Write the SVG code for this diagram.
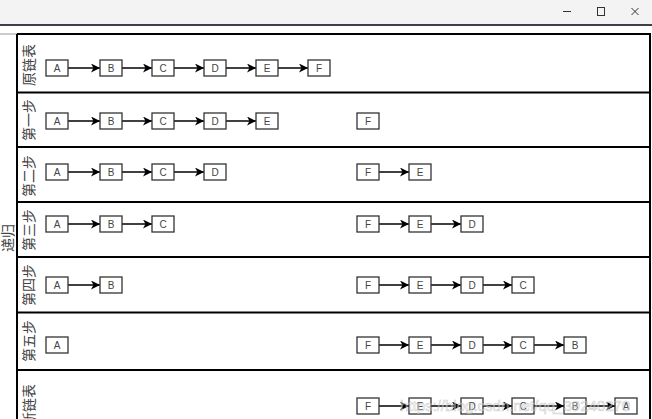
<svg xmlns="http://www.w3.org/2000/svg" width="652" height="419" viewBox="0 0 652 419">
<style>
.bx{fill:#fff;stroke:#333;stroke-width:1.3}
.nt{font-family:"Liberation Sans",Arial,sans-serif;font-size:10px;fill:#444;text-anchor:middle}
.lb{font-family:"Noto Sans CJK SC","Noto Sans CJK JP",sans-serif;font-size:14px;fill:#444;text-anchor:middle;dominant-baseline:central}
.ar{stroke:#000;stroke-width:1.5;fill:none;marker-end:url(#ah)}
.tl{stroke:#000;stroke-width:2;fill:none}
</style>
<defs>
<marker id="ah" markerUnits="userSpaceOnUse" markerWidth="10" markerHeight="10" refX="9" refY="4.5" orient="auto">
<path d="M0,0 L9,4.5 L0,9 L2.5,4.5 z" fill="#000"/>
</marker>
<g id="nodeproto"></g>
</defs>
<rect x="0" y="0" width="652" height="419" fill="#fff"/>
<g id="titlebar">
<rect x="0" y="0" width="652" height="24" fill="#f3f3f3"/>
<rect x="0" y="24" width="652" height="2" fill="#3c4048"/>
<line x1="563" y1="11.5" x2="571" y2="11.5" stroke="#333" stroke-width="1"/>
<rect x="597.5" y="7.5" width="7" height="8" fill="none" stroke="#333" stroke-width="1"/>
<path d="M631.5,8 L638.5,15 M638.5,8 L631.5,15" stroke="#333" stroke-width="1"/>
</g>
<g id="table">
<line x1="0" y1="34" x2="17" y2="34" stroke="#999" stroke-width="1"/>
<path class="tl" d="M17,34 H650 V419 M17,34 V419"/>
<path class="tl" d="M17,92.5 H650 M17,147 H650 M17,202 H650 M17,257 H650 M17,312.5 H650 M17,370 H650"/>
<text class="lb" font-size="15" transform="translate(7,238) rotate(-90)">递归</text>
<text class="lb" transform="translate(27.5,65) rotate(-90)">原链表</text>
<text class="lb" transform="translate(27.5,120) rotate(-90)">第一步</text>
<text class="lb" transform="translate(27.5,176) rotate(-90)">第二步</text>
<text class="lb" transform="translate(27.5,230) rotate(-90)">第三步</text>
<text class="lb" transform="translate(27.5,285) rotate(-90)">第四步</text>
<text class="lb" transform="translate(27.5,341) rotate(-90)">第五步</text>
<text class="lb" transform="translate(27.5,405) rotate(-90)">新链表</text>
</g>
<g id="connectors">
<path class="ar" d="M68,68 H100"/><path class="ar" d="M122,68 H152"/><path class="ar" d="M174,68 H204"/><path class="ar" d="M226,68 H256"/><path class="ar" d="M278,68 H308"/>
<path class="ar" d="M68,121 H100"/><path class="ar" d="M122,121 H152"/><path class="ar" d="M174,121 H204"/><path class="ar" d="M226,121 H256"/>
<path class="ar" d="M68,172 H100"/><path class="ar" d="M122,172 H152"/><path class="ar" d="M174,172 H204"/>
<path class="ar" d="M379,172 H409"/>
<path class="ar" d="M68,224 H100"/><path class="ar" d="M122,224 H152"/>
<path class="ar" d="M379,224 H409"/><path class="ar" d="M431,224 H461"/>
<path class="ar" d="M68,285 H100"/>
<path class="ar" d="M379,285 H409"/><path class="ar" d="M431,285 H461"/><path class="ar" d="M483,285 H512"/>
<path class="ar" d="M379,345 H409"/><path class="ar" d="M431,345 H461"/><path class="ar" d="M483,345 H512"/><path class="ar" d="M534,345 H564"/>
<path class="ar" d="M379,406 H409"/><path class="ar" d="M431,406 H461"/><path class="ar" d="M483,406 H512"/><path class="ar" d="M534,406 H564"/><path class="ar" d="M586,406 H615"/>
</g>
<g id="r1-A"><rect class="bx" x="46" y="60" width="22" height="16"/><text class="nt" x="57" y="71.5">A</text></g>
<g id="r1-B"><rect class="bx" x="100" y="60" width="22" height="16"/><text class="nt" x="111" y="71.5">B</text></g>
<g id="r1-C"><rect class="bx" x="152" y="60" width="22" height="16"/><text class="nt" x="163" y="71.5">C</text></g>
<g id="r1-D"><rect class="bx" x="204" y="60" width="22" height="16"/><text class="nt" x="215" y="71.5">D</text></g>
<g id="r1-E"><rect class="bx" x="256" y="60" width="22" height="16"/><text class="nt" x="267" y="71.5">E</text></g>
<g id="r1-F"><rect class="bx" x="308" y="60" width="22" height="16"/><text class="nt" x="319" y="71.5">F</text></g>

<g id="r2-A"><rect class="bx" x="46" y="113" width="22" height="16"/><text class="nt" x="57" y="124.5">A</text></g>
<g id="r2-B"><rect class="bx" x="100" y="113" width="22" height="16"/><text class="nt" x="111" y="124.5">B</text></g>
<g id="r2-C"><rect class="bx" x="152" y="113" width="22" height="16"/><text class="nt" x="163" y="124.5">C</text></g>
<g id="r2-D"><rect class="bx" x="204" y="113" width="22" height="16"/><text class="nt" x="215" y="124.5">D</text></g>
<g id="r2-E"><rect class="bx" x="256" y="113" width="22" height="16"/><text class="nt" x="267" y="124.5">E</text></g>
<g id="r2-F"><rect class="bx" x="357" y="113" width="22" height="16"/><text class="nt" x="368" y="124.5">F</text></g>

<g id="r3-A"><rect class="bx" x="46" y="164" width="22" height="16"/><text class="nt" x="57" y="175.5">A</text></g>
<g id="r3-B"><rect class="bx" x="100" y="164" width="22" height="16"/><text class="nt" x="111" y="175.5">B</text></g>
<g id="r3-C"><rect class="bx" x="152" y="164" width="22" height="16"/><text class="nt" x="163" y="175.5">C</text></g>
<g id="r3-D"><rect class="bx" x="204" y="164" width="22" height="16"/><text class="nt" x="215" y="175.5">D</text></g>
<g id="r3-F"><rect class="bx" x="357" y="164" width="22" height="16"/><text class="nt" x="368" y="175.5">F</text></g>
<g id="r3-E"><rect class="bx" x="409" y="164" width="22" height="16"/><text class="nt" x="420" y="175.5">E</text></g>

<g id="r4-A"><rect class="bx" x="46" y="216" width="22" height="16"/><text class="nt" x="57" y="227.5">A</text></g>
<g id="r4-B"><rect class="bx" x="100" y="216" width="22" height="16"/><text class="nt" x="111" y="227.5">B</text></g>
<g id="r4-C"><rect class="bx" x="152" y="216" width="22" height="16"/><text class="nt" x="163" y="227.5">C</text></g>
<g id="r4-F"><rect class="bx" x="357" y="216" width="22" height="16"/><text class="nt" x="368" y="227.5">F</text></g>
<g id="r4-E"><rect class="bx" x="409" y="216" width="22" height="16"/><text class="nt" x="420" y="227.5">E</text></g>
<g id="r4-D"><rect class="bx" x="461" y="216" width="22" height="16"/><text class="nt" x="472" y="227.5">D</text></g>

<g id="r5-A"><rect class="bx" x="46" y="277" width="22" height="16"/><text class="nt" x="57" y="288.5">A</text></g>
<g id="r5-B"><rect class="bx" x="100" y="277" width="22" height="16"/><text class="nt" x="111" y="288.5">B</text></g>
<g id="r5-F"><rect class="bx" x="357" y="277" width="22" height="16"/><text class="nt" x="368" y="288.5">F</text></g>
<g id="r5-E"><rect class="bx" x="409" y="277" width="22" height="16"/><text class="nt" x="420" y="288.5">E</text></g>
<g id="r5-D"><rect class="bx" x="461" y="277" width="22" height="16"/><text class="nt" x="472" y="288.5">D</text></g>
<g id="r5-C"><rect class="bx" x="512" y="277" width="22" height="16"/><text class="nt" x="523" y="288.5">C</text></g>

<g id="r6-A"><rect class="bx" x="46" y="337" width="22" height="16"/><text class="nt" x="57" y="348.5">A</text></g>
<g id="r6-F"><rect class="bx" x="357" y="337" width="22" height="16"/><text class="nt" x="368" y="348.5">F</text></g>
<g id="r6-E"><rect class="bx" x="409" y="337" width="22" height="16"/><text class="nt" x="420" y="348.5">E</text></g>
<g id="r6-D"><rect class="bx" x="461" y="337" width="22" height="16"/><text class="nt" x="472" y="348.5">D</text></g>
<g id="r6-C"><rect class="bx" x="512" y="337" width="22" height="16"/><text class="nt" x="523" y="348.5">C</text></g>
<g id="r6-B"><rect class="bx" x="564" y="337" width="22" height="16"/><text class="nt" x="575" y="348.5">B</text></g>

<g id="r7-F"><rect class="bx" x="357" y="398" width="22" height="16"/><text class="nt" x="368" y="409.5">F</text></g>
<g id="r7-E"><rect class="bx" x="409" y="398" width="22" height="16"/><text class="nt" x="420" y="409.5">E</text></g>
<g id="r7-D"><rect class="bx" x="461" y="398" width="22" height="16"/><text class="nt" x="472" y="409.5">D</text></g>
<g id="r7-C"><rect class="bx" x="512" y="398" width="22" height="16"/><text class="nt" x="523" y="409.5">C</text></g>
<g id="r7-B"><rect class="bx" x="564" y="398" width="22" height="16"/><text class="nt" x="575" y="409.5">B</text></g>
<g id="r7-A"><rect class="bx" x="615" y="398" width="22" height="16"/><text class="nt" x="626" y="409.5">A</text></g>

<text x="400" y="411" font-family="Liberation Sans,Arial,sans-serif" font-size="15" fill="#fff" fill-opacity="0.4" stroke="#aaa" stroke-opacity="0.6" stroke-width="0.6">https://blog.csdn.net/qq_39240270</text>
</svg>
